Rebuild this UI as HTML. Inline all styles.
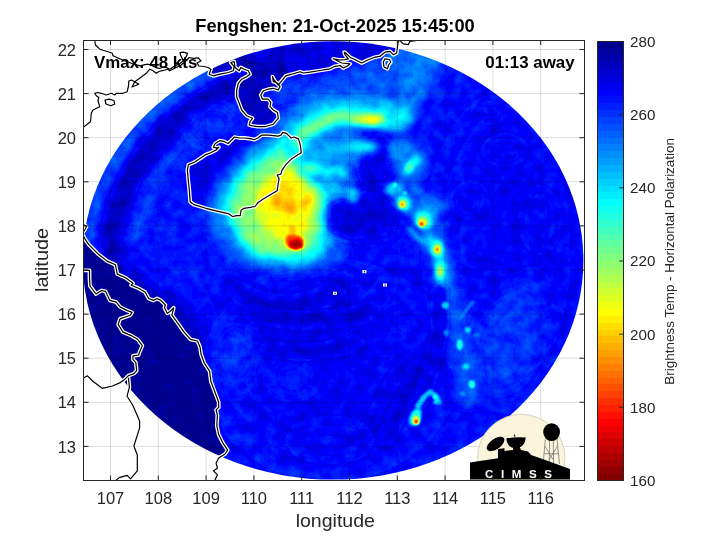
<!DOCTYPE html>
<html><head><meta charset="utf-8"><title>Fengshen</title><style>
html,body{margin:0;padding:0;background:#fff;width:720px;height:540px;overflow:hidden}
svg{display:block}
text{font-family:"Liberation Sans",Arial,sans-serif}
</style></head><body>
<svg width="720" height="540" viewBox="0 0 720 540">
<defs>
<clipPath id="ax"><rect x="83.5" y="40.5" width="501" height="440"/></clipPath>
<clipPath id="disk"><ellipse cx="333.0" cy="260.4" rx="250.4" ry="219.2"/></clipPath>
<filter id="jet" color-interpolation-filters="sRGB" filterUnits="userSpaceOnUse" x="80" y="35" width="510" height="450"><feTurbulence type="fractalNoise" baseFrequency="0.09" numOctaves="2" seed="7" result="n"/><feColorMatrix in="n" type="matrix" values="1 0 0 0 0  1 0 0 0 0  1 0 0 0 0  0 0 0 0 1" result="ng"/><feComposite in="SourceGraphic" in2="ng" operator="arithmetic" k1="0" k2="1" k3="0.11" k4="-0.055" result="f"/><feComponentTransfer in="f"><feFuncR type="discrete" tableValues="0 0 0 0 0 0 0 0 0 0 0 0 0 0 0 0 0 0 0 0 0 0 0 0 0.0625 0.125 0.1875 0.25 0.3125 0.375 0.4375 0.5 0.5625 0.625 0.6875 0.75 0.8125 0.875 0.9375 1 1 1 1 1 1 1 1 1 1 1 1 1 1 1 1 1 0.9375 0.875 0.8125 0.75 0.6875 0.625 0.5625 0.5"/><feFuncG type="discrete" tableValues="0 0 0 0 0 0 0 0 0.0625 0.125 0.1875 0.25 0.3125 0.375 0.4375 0.5 0.5625 0.625 0.6875 0.75 0.8125 0.875 0.9375 1 1 1 1 1 1 1 1 1 1 1 1 1 1 1 1 1 0.9375 0.875 0.8125 0.75 0.6875 0.625 0.5625 0.5 0.4375 0.375 0.3125 0.25 0.1875 0.125 0.0625 0 0 0 0 0 0 0 0 0"/><feFuncB type="discrete" tableValues="0.5625 0.625 0.6875 0.75 0.8125 0.875 0.9375 1 1 1 1 1 1 1 1 1 1 1 1 1 1 1 1 1 0.9375 0.875 0.8125 0.75 0.6875 0.625 0.5625 0.5 0.4375 0.375 0.3125 0.25 0.1875 0.125 0.0625 0 0 0 0 0 0 0 0 0 0 0 0 0 0 0 0 0 0 0 0 0 0 0 0 0"/></feComponentTransfer></filter>
<filter id="b0_8" filterUnits="userSpaceOnUse" x="0" y="0" width="720" height="540"><feGaussianBlur stdDeviation="0.8"/></filter>
<filter id="b1" filterUnits="userSpaceOnUse" x="0" y="0" width="720" height="540"><feGaussianBlur stdDeviation="1"/></filter>
<filter id="b1_2" filterUnits="userSpaceOnUse" x="0" y="0" width="720" height="540"><feGaussianBlur stdDeviation="1.2"/></filter>
<filter id="b1_5" filterUnits="userSpaceOnUse" x="0" y="0" width="720" height="540"><feGaussianBlur stdDeviation="1.5"/></filter>
<filter id="b2" filterUnits="userSpaceOnUse" x="0" y="0" width="720" height="540"><feGaussianBlur stdDeviation="2"/></filter>
<filter id="b2_5" filterUnits="userSpaceOnUse" x="0" y="0" width="720" height="540"><feGaussianBlur stdDeviation="2.5"/></filter>
<filter id="b3" filterUnits="userSpaceOnUse" x="0" y="0" width="720" height="540"><feGaussianBlur stdDeviation="3"/></filter>
<filter id="b3_5" filterUnits="userSpaceOnUse" x="0" y="0" width="720" height="540"><feGaussianBlur stdDeviation="3.5"/></filter>
<filter id="b4" filterUnits="userSpaceOnUse" x="0" y="0" width="720" height="540"><feGaussianBlur stdDeviation="4"/></filter>
<filter id="b4_5" filterUnits="userSpaceOnUse" x="0" y="0" width="720" height="540"><feGaussianBlur stdDeviation="4.5"/></filter>
<filter id="b5" filterUnits="userSpaceOnUse" x="0" y="0" width="720" height="540"><feGaussianBlur stdDeviation="5"/></filter>
<filter id="b6" filterUnits="userSpaceOnUse" x="0" y="0" width="720" height="540"><feGaussianBlur stdDeviation="6"/></filter>
<filter id="b7" filterUnits="userSpaceOnUse" x="0" y="0" width="720" height="540"><feGaussianBlur stdDeviation="7"/></filter>
<filter id="b8" filterUnits="userSpaceOnUse" x="0" y="0" width="720" height="540"><feGaussianBlur stdDeviation="8"/></filter>
<filter id="b10" filterUnits="userSpaceOnUse" x="0" y="0" width="720" height="540"><feGaussianBlur stdDeviation="10"/></filter>
<filter id="b12" filterUnits="userSpaceOnUse" x="0" y="0" width="720" height="540"><feGaussianBlur stdDeviation="12"/></filter>
<filter id="b20" filterUnits="userSpaceOnUse" x="0" y="0" width="720" height="540"><feGaussianBlur stdDeviation="20"/></filter>
<filter id="b25" filterUnits="userSpaceOnUse" x="0" y="0" width="720" height="540"><feGaussianBlur stdDeviation="25"/></filter>
</defs>
<rect width="720" height="540" fill="#fff"/>
<g clip-path="url(#ax)">
<g clip-path="url(#disk)"><g filter="url(#jet)">
<rect x="80" y="35" width="510" height="450" fill="rgb(34,34,34)"/>
<ellipse cx="330" cy="370" rx="110" ry="90" fill="rgb(31,31,31)" filter="url(#b25)"/>
<path d="M341.5,47.5 L332.0,47.3 L322.5,47.5 L313.1,48.0 L303.6,48.9 L294.2,50.0 L284.9,51.5 L275.6,53.3 L266.5,55.4 L257.4,57.9 L248.4,60.6 L239.6,63.6 L230.9,67.0 L222.4,70.6 L214.0,74.5 L205.8,78.7 L197.8,83.2 L190.0,87.9 L182.5,93.0 L175.1,98.2 L168.0,103.7 L161.2,109.5 L154.6,115.4 L148.3,121.6 L142.2,128.1 L136.5,134.7 L131.1,141.5 L125.9,148.4 L121.1,155.6 L116.6,162.9 L112.4,170.4" fill="none" stroke="rgb(56,56,56)" stroke-width="15" stroke-linecap="round" stroke-linejoin="round" filter="url(#b4)"/>
<path d="M147.3,124.0 L141.6,130.2 L136.1,136.7 L130.9,143.3 L126.0,150.1 L121.3,157.0 L117.0,164.1 L113.0,171.3 L109.3,178.6 L106.0,186.1 L102.9,193.7 L100.2,201.3 L97.8,209.1 L95.8,216.9 L94.0,224.8 L92.7,232.7 L91.6,240.7 L91.0,248.7 L90.6,256.7 L90.7,264.7 L91.0,272.7 L91.7,280.7 L92.8,288.7 L94.2,296.6 L95.9,304.5 L98.0,312.3 L100.4,320.1 L103.1,327.7 L106.2,335.3 L109.6,342.7 L113.3,350.1" fill="none" stroke="rgb(46,46,46)" stroke-width="18" stroke-linecap="round" stroke-linejoin="round" filter="url(#b5)"/>
<path d="M264.0,74.4 L255.6,76.9 L247.4,79.8 L239.3,82.9 L231.3,86.3 L223.6,89.9 L215.9,93.8 L208.5,98.0 L201.3,102.5 L194.2,107.1 L187.4,112.1 L180.8,117.2 L174.5,122.6 L168.4,128.2 L162.5,134.0 L157.0,140.0 L151.7,146.2 L146.6,152.6 L141.9,159.1 L137.5,165.8 L133.4,172.6 L129.6,179.6 L126.1,186.7 L122.9,193.9 L120.1,201.3 L117.6,208.7 L115.4,216.2 L113.6,223.8 L112.1,231.4 L110.9,239.1 L110.1,246.8 L113,262 L128,282 L150,297 L175,311 L198,345" fill="none" stroke="rgb(15,15,15)" stroke-width="22" stroke-linecap="round" stroke-linejoin="round" filter="url(#b5)"/>
<path d="M298.5,89.4 L290.4,90.8 L282.3,92.5 L274.3,94.5 L266.4,96.8 L258.7,99.4 L251.0,102.2 L243.5,105.4 L236.2,108.8 L229.0,112.5 L222.1,116.4 L215.3,120.6 L208.7,125.0 L202.3,129.7 L196.2,134.6 L190.3,139.8 L184.6,145.1 L179.3,150.6 L174.1,156.4 L169.3,162.3 L164.7,168.4 L160.5,174.6 L156.5,181.0 L152.9,187.5 L149.6,194.2 L146.6,201.0 L143.9,207.9 L141.5,214.9 L139.5,221.9 L137.9,229.0 L136.5,236.2" fill="none" stroke="rgb(42,42,42)" stroke-width="16" stroke-linecap="round" stroke-linejoin="round" filter="url(#b5)"/>
<ellipse cx="212" cy="125" rx="24" ry="18" fill="rgb(40,40,40)" filter="url(#b8)"/>
<path d="M380,46 L420,48 L442,58 L430,85 L415,115 L400,132 L380,125Z" fill="rgb(61,61,61)" filter="url(#b5)"/>
<path d="M290,92 L340,72 L400,55 L406,104 L350,108 L300,118Z" fill="rgb(51,51,51)" filter="url(#b6)"/>
<ellipse cx="515" cy="250" rx="75" ry="150" fill="rgb(31,31,31)" filter="url(#b20)"/>
<ellipse cx="505" cy="150" rx="20" ry="12" fill="rgb(26,26,26)" filter="url(#b6)"/>
<ellipse cx="540" cy="220" rx="15" ry="30" fill="rgb(28,28,28)" filter="url(#b8)"/>
<ellipse cx="470" cy="200" rx="15" ry="15" fill="rgb(28,28,28)" filter="url(#b6)"/>
<ellipse cx="520" cy="300" rx="30" ry="14" fill="rgb(41,41,41)" filter="url(#b8)" transform="rotate(-50 520 300)"/>
<ellipse cx="545" cy="330" rx="10" ry="25" fill="rgb(26,26,26)" filter="url(#b6)" transform="rotate(30 545 330)"/>
<ellipse cx="490" cy="110" rx="15" ry="10" fill="rgb(26,26,26)" filter="url(#b6)"/>
<ellipse cx="375" cy="165" rx="24" ry="28" fill="rgb(20,20,20)" filter="url(#b7)"/>
<path d="M235,290 C270,315 320,310 345,280" fill="none" stroke="rgb(24,24,24)" stroke-width="14" stroke-linecap="round" stroke-linejoin="round" filter="url(#b7)"/>
<path d="M250,330 C300,350 360,330 390,280" fill="none" stroke="rgb(26,26,26)" stroke-width="10" stroke-linecap="round" stroke-linejoin="round" filter="url(#b8)"/>
<ellipse cx="235" cy="355" rx="18" ry="30" fill="rgb(41,41,41)" filter="url(#b10)"/>
<ellipse cx="293" cy="377" rx="20" ry="15" fill="rgb(38,38,38)" filter="url(#b10)"/>
<path d="M250,312 C290,325 340,322 373,310" fill="none" stroke="rgb(22,22,22)" stroke-width="12" stroke-linecap="round" stroke-linejoin="round" filter="url(#b6)"/>
<path d="M266,348 C300,356 330,352 358,342" fill="none" stroke="rgb(23,23,23)" stroke-width="10" stroke-linecap="round" stroke-linejoin="round" filter="url(#b6)"/>
<path d="M420,365 L385,440" fill="none" stroke="rgb(22,22,22)" stroke-width="12" stroke-linecap="round" stroke-linejoin="round" filter="url(#b6)"/>
<path d="M405,360 L360,440" fill="none" stroke="rgb(23,23,23)" stroke-width="8" stroke-linecap="round" stroke-linejoin="round" filter="url(#b6)"/>
<ellipse cx="330" cy="440" rx="40" ry="15" fill="rgb(26,26,26)" filter="url(#b10)"/>
<ellipse cx="508" cy="345" rx="35" ry="55" fill="rgb(41,41,41)" filter="url(#b12)" transform="rotate(20 508 345)"/>
<polygon points="83.5,236.0 84.9,238.9 88.6,244.4 97.8,253.7 107.1,261.1 115.4,264.8 117.3,274.1 125.6,277.8 133.0,283.3 131.1,285.2 138.6,288.3 145.0,292.0 148.7,298.5 153.4,300.4 157.1,298.5 160.8,300.4 165.4,305.0 164.5,307.8 167.3,313.3 170.0,311.5 173.7,307.8 171.9,315.2 177.4,322.6 183.9,331.9 190.4,339.3 197.5,341.0 200.0,347.0 201.0,354.0 204.4,363.3 209.6,371.1 210.9,381.5 214.8,391.8 218.7,402.2 218.7,407.4 216.1,410.0 217.4,415.1 216.8,425.5 218.7,434.6 222.5,442.3 227.7,450.1 225.1,454.0 218.7,457.9 216.1,463.1 217.4,468.2 213.5,470.8 217.4,474.7 214.8,480.5 214.8,490.0 60.0,490.0 60.0,236.0" fill="rgb(4,4,4)" filter="url(#b0_8)"/>
<polygon points="198.0,58.0 201.0,61.0 197.0,63.0 199.0,66.0 204.0,66.5 208.0,67.5 210.8,69.2 209.2,74.2 213.3,75.8 220.0,74.2 228.3,72.5 233.3,70.8 234.2,66.7 230.8,62.5 234.2,61.7 235.0,67.5 239.2,70.8 240.8,67.5 244.2,69.2 248.3,70.8 250.0,74.2 246.7,76.7 241.7,79.2 238.3,83.3 236.7,90.0 236.7,96.7 239.2,103.3 241.7,110.0 246.7,115.8 252.5,118.3 250.0,121.7 249.2,125.0 252.5,125.8 257.5,126.7 265.0,126.7 273.3,124.2 278.3,118.3 277.5,112.5 273.3,110.0 270.0,106.7 270.8,102.5 268.3,99.2 262.5,99.2 260.8,95.0 263.3,90.8 268.3,89.2 273.3,88.3 278.3,90.0 280.0,86.7 276.7,82.5 273.3,81.7 272.5,76.7 274.5,80.5 278.3,85.0 281.7,80.8 285.8,75.8 291.7,74.2 300.0,71.7 303.3,73.0 310.0,72.2 320.0,70.5 330.0,68.8 335.0,66.3 340.0,65.5 343.3,68.0 348.3,65.5 350.0,63.8 341.7,63.0 338.3,61.3 333.3,58.8 340.0,60.0 345.0,59.7 348.3,58.8 345.0,54.7 344.2,52.2 345.8,53.0 350.0,57.2 356.7,60.5 361.7,63.0 368.3,59.7 375.0,57.2 380.0,56.3 385.0,52.2 390.0,51.3 393.3,54.7 396.7,53.0 397.5,46.3 398.3,41.3 400.0,40.5 403.3,43.8 408.3,44.7 410.0,41.3 416.7,40.5 420.0,40.0 420.0,20.0 190.0,20.0" fill="rgb(10,10,10)" filter="url(#b0_8)"/>
<polygon points="285.8,75.8 291.7,74.2 300.0,71.7 303.3,73.0 310.0,72.2 320.0,70.5 330.0,68.8 335.0,66.3 340.0,65.5 343.3,68.0 348.3,65.5 350.0,63.8 341.7,63.0 338.3,61.3 333.3,58.8 340.0,60.0 345.0,59.7 348.3,58.8 345.0,54.7 344.2,52.2 345.8,53.0 350.0,57.2 356.7,60.5 361.7,63.0 368.3,59.7 375.0,57.2 380.0,56.3 385.0,52.2 390.0,51.3 393.3,54.7 396.7,53.0 397.5,46.3 398.3,41.3 400.0,40.5 400.0,30.0 285.0,30.0" fill="rgb(18,18,18)" filter="url(#b1_5)"/>
<ellipse cx="262" cy="52" rx="18" ry="8" fill="rgb(18,18,18)" filter="url(#b4)"/>
<polygon points="188.3,164.8 187.4,170.4 188.3,180.6 189.3,189.8 190.2,201.9 193.9,204.6 205.9,208.3 217.0,211.1 229.1,213.9 232.8,216.7 236.5,215.7 240.2,215.7 241.1,210.2 243.9,208.3 250.4,207.4 255.0,206.5 257.8,202.8 263.3,199.1 270.7,194.4 277.2,190.7 278.1,184.3 279.1,178.7 277.2,175.0 280.9,174.1 281.9,170.4 285.6,164.8 291.1,159.3 296.7,155.6 301.3,152.8 300.4,145.4 298.5,138.9 293.9,137.0 291.1,138.0 286.5,133.3 282.8,132.4 280.9,135.2 278.1,136.1 268.9,135.2 261.5,135.2 257.8,138.0 254.1,139.8 251.3,138.9 244.8,138.0 239.3,138.0 234.6,137.0 230.0,141.7 228.1,143.5 224.4,141.7 219.8,140.7 215.2,143.5 213.3,147.2 217.0,148.1 218.9,147.2 216.1,150.0 210.6,152.8 205.9,154.6 200.4,158.3 194.8,162.0 190.2,163.9 188.3,164.8" fill="rgb(19,19,19)" filter="url(#b0_8)"/>
<ellipse cx="292" cy="122" rx="16" ry="11" fill="rgb(66,66,66)" filter="url(#b5)"/>
<path d="M203,212 L213,190 L230,165 L253,143 L270,131 L285,126 L312,126 L336,150 L350,185 L354,215 L344,245 L330,264 L300,271 L262,270 L236,260 L215,235Z" fill="rgb(61,61,61)" filter="url(#b6)"/>
<path d="M219,208 L226,190 L242,168 L260,152 L278,140 L288,136 L310,137 L326,152 L338,182 L342,208 L334,238 L322,257 L300,263 L270,261 L250,256 L236,233Z" fill="rgb(94,94,94)" filter="url(#b5)"/>
<path d="M230,210 L238,188 L254,170 L273,157 L290,150 L296,150 L312,158 L321,177 L324,205 L319,234 L311,250 L290,255 L264,253 L250,248 L240,231Z" fill="rgb(128,128,128)" filter="url(#b4_5)"/>
<path d="M255,205 L259,188 L271,176 L288,168 L305,175 L313,190 L315,208 L307,225 L302,238 L285,240 L268,235 L262,220Z" fill="rgb(158,158,158)" filter="url(#b4)"/>
<path d="M288,148 C300,140 320,140 345,145" fill="none" stroke="rgb(102,102,102)" stroke-width="12" stroke-linecap="round" stroke-linejoin="round" filter="url(#b4)"/>
<path d="M272,196 L279,184 L289,179 L293,190 L297,204 L296,215 L286,219 L276,209Z" fill="rgb(168,168,168)" filter="url(#b2_5)"/>
<ellipse cx="278" cy="202" rx="6" ry="5" fill="rgb(181,181,181)" filter="url(#b2)"/>
<ellipse cx="290" cy="210" rx="6" ry="5" fill="rgb(178,178,178)" filter="url(#b2)"/>
<ellipse cx="307.5" cy="200" rx="4.5" ry="6" fill="rgb(173,173,173)" filter="url(#b2)" transform="rotate(30 307.5 200)"/>
<ellipse cx="292.5" cy="230" rx="3" ry="5" fill="rgb(173,173,173)" filter="url(#b1_5)"/>
<path d="M286,236 L292,234 L300,236 L304,240 L303,248 L296,250.5 L288,248 L285,242Z" fill="rgb(209,209,209)" filter="url(#b1_5)"/>
<path d="M290,241 L300,240 L302.5,247 L295,249.5 L289.5,246.5Z" fill="rgb(245,245,245)" filter="url(#b1_2)"/>
<path d="M298,132 L330,122 L355,128 L362,150 L350,182 L325,190 L305,178Z" fill="rgb(64,64,64)" filter="url(#b6)"/>
<ellipse cx="380" cy="160" rx="14" ry="24" fill="rgb(22,22,22)" filter="url(#b5)"/>
<path d="M300,112 C320,104 360,101 396,106" fill="none" stroke="rgb(66,66,66)" stroke-width="14" stroke-linecap="round" stroke-linejoin="round" filter="url(#b5)"/>
<path d="M293,146 C305,128 318,117 335,114 S375,117 400,118" fill="none" stroke="rgb(89,89,89)" stroke-width="24" stroke-linecap="round" stroke-linejoin="round" filter="url(#b4)"/>
<path d="M298,141 C310,126 322,119 345,116 L352,117" fill="none" stroke="rgb(125,125,125)" stroke-width="11" stroke-linecap="round" stroke-linejoin="round" filter="url(#b3_5)"/>
<ellipse cx="369" cy="119.5" rx="17" ry="5.5" fill="rgb(158,158,158)" filter="url(#b3)"/>
<path d="M305,160 C318,150 335,146 375,147" fill="none" stroke="rgb(79,79,79)" stroke-width="9" stroke-linecap="round" stroke-linejoin="round" filter="url(#b4)"/>
<ellipse cx="362" cy="147" rx="12" ry="5" fill="rgb(92,92,92)" filter="url(#b3)"/>
<path d="M302,172 C315,169 330,171 343,173" fill="none" stroke="rgb(92,92,92)" stroke-width="8" stroke-linecap="round" stroke-linejoin="round" filter="url(#b3)"/>
<ellipse cx="312" cy="168" rx="9" ry="5" fill="rgb(115,115,115)" filter="url(#b3)"/>
<path d="M326,203 L340,196 L352,200 L360,188 L382,190 L398,212 L390,238 L350,242 L327,233Z" fill="rgb(18,18,18)" filter="url(#b4)"/>
<ellipse cx="353" cy="195" rx="7" ry="8" fill="rgb(76,76,76)" filter="url(#b2_5)"/>
<ellipse cx="336" cy="252" rx="12" ry="8" fill="rgb(51,51,51)" filter="url(#b4)"/>
<path d="M396,145 C405,175 420,205 432,230 S446,275 452,305 S468,360 468,395" fill="none" stroke="rgb(51,51,51)" stroke-width="22" stroke-linecap="round" stroke-linejoin="round" filter="url(#b5)"/>
<ellipse cx="410" cy="160" rx="17" ry="19" fill="rgb(59,59,59)" filter="url(#b4)" transform="rotate(-40 410 160)"/>
<ellipse cx="401" cy="150" rx="8" ry="6" fill="rgb(71,71,71)" filter="url(#b3)"/>
<ellipse cx="412" cy="165" rx="5" ry="11" fill="rgb(94,94,94)" filter="url(#b2_5)" transform="rotate(40 412 165)"/>
<ellipse cx="410" cy="167" rx="2.5" ry="5" fill="rgb(117,117,117)" filter="url(#b1_5)" transform="rotate(40 410 167)"/>
<ellipse cx="394" cy="189" rx="9" ry="7" fill="rgb(82,82,82)" filter="url(#b2_5)"/>
<ellipse cx="395" cy="185" rx="2" ry="2" fill="rgb(115,115,115)" filter="url(#b1)"/>
<ellipse cx="405" cy="193" rx="2" ry="2" fill="rgb(107,107,107)" filter="url(#b1)"/>
<ellipse cx="428" cy="210" rx="17" ry="10" fill="rgb(69,69,69)" filter="url(#b4)" transform="rotate(-20 428 210)"/>
<ellipse cx="403.5" cy="203" rx="7" ry="9" fill="rgb(107,107,107)" filter="url(#b2_5)" transform="rotate(-30 403.5 203)"/>
<ellipse cx="402.5" cy="204" rx="3.5" ry="4" fill="rgb(153,153,153)" filter="url(#b1_5)"/>
<ellipse cx="402" cy="204.5" rx="1.8" ry="1.8" fill="rgb(189,189,189)" filter="url(#b1)"/>
<ellipse cx="424" cy="221" rx="8" ry="9" fill="rgb(112,112,112)" filter="url(#b2_5)" transform="rotate(-30 424 221)"/>
<ellipse cx="423" cy="222" rx="5" ry="4" fill="rgb(153,153,153)" filter="url(#b1_5)"/>
<ellipse cx="421.5" cy="224.3" rx="2.4" ry="2.2" fill="rgb(217,217,217)" filter="url(#b1)"/>
<path d="M410,229 L418,238 L428,244" fill="none" stroke="rgb(76,76,76)" stroke-width="5" stroke-linecap="round" stroke-linejoin="round" filter="url(#b2)"/>
<path d="M430,240 L438,252 L442,268 L441,282" fill="none" stroke="rgb(84,84,84)" stroke-width="12" stroke-linecap="round" stroke-linejoin="round" filter="url(#b3)"/>
<ellipse cx="437.5" cy="249" rx="5" ry="8" fill="rgb(115,115,115)" filter="url(#b2)"/>
<ellipse cx="437.2" cy="249.5" rx="3" ry="4.5" fill="rgb(153,153,153)" filter="url(#b1_5)"/>
<ellipse cx="437.2" cy="249.3" rx="1.6" ry="2" fill="rgb(194,194,194)" filter="url(#b1)"/>
<ellipse cx="440" cy="271" rx="4.5" ry="9" fill="rgb(115,115,115)" filter="url(#b2)"/>
<ellipse cx="440" cy="271.5" rx="2.5" ry="4" fill="rgb(148,148,148)" filter="url(#b1_5)"/>
<path d="M440,290 L440,330 L432,365 L424,392" fill="none" stroke="rgb(22,22,22)" stroke-width="12" stroke-linecap="round" stroke-linejoin="round" filter="url(#b4)"/>
<ellipse cx="445.3" cy="305.3" rx="3.5" ry="3.5" fill="rgb(87,87,87)" filter="url(#b1_2)"/>
<path d="M472.9,302 L458.6,320.6" fill="none" stroke="rgb(61,61,61)" stroke-width="3" stroke-linecap="round" stroke-linejoin="round" filter="url(#b1_2)"/>
<ellipse cx="467.8" cy="329.8" rx="3.2" ry="3" fill="rgb(87,87,87)" filter="url(#b1_2)"/>
<ellipse cx="477" cy="335" rx="3" ry="2.5" fill="rgb(64,64,64)" filter="url(#b1_2)"/>
<ellipse cx="446.3" cy="332.9" rx="3" ry="3" fill="rgb(64,64,64)" filter="url(#b1_2)"/>
<ellipse cx="459.6" cy="345.1" rx="2.8" ry="5" fill="rgb(102,102,102)" filter="url(#b1_2)"/>
<ellipse cx="465.7" cy="366.5" rx="3.5" ry="3" fill="rgb(89,89,89)" filter="url(#b1_2)"/>
<ellipse cx="471.8" cy="383.9" rx="3" ry="4" fill="rgb(102,102,102)" filter="url(#b1_2)"/>
<ellipse cx="462.7" cy="394" rx="2.5" ry="2.5" fill="rgb(66,66,66)" filter="url(#b1_2)"/>
<path d="M418,406 L424,397 L430,391.5 L436,396 L439,402" fill="none" stroke="rgb(82,82,82)" stroke-width="5" stroke-linecap="round" stroke-linejoin="round" filter="url(#b1_2)"/>
<ellipse cx="435" cy="397" rx="2" ry="2" fill="rgb(117,117,117)" filter="url(#b1)"/>
<ellipse cx="435.5" cy="402" rx="1.8" ry="1.8" fill="rgb(115,115,115)" filter="url(#b1)"/>
<ellipse cx="415.5" cy="417" rx="5.5" ry="9" fill="rgb(97,97,97)" filter="url(#b1_5)" transform="rotate(25 415.5 417)"/>
<ellipse cx="416" cy="420" rx="3.6" ry="4.5" fill="rgb(148,148,148)" filter="url(#b1_2)"/>
<ellipse cx="416.2" cy="421.5" rx="2.2" ry="2.6" fill="rgb(219,219,219)" filter="url(#b0_8)"/>
</g></g>
<path d="M110.5,41V480 M158.3,41V480 M206.1,41V480 M253.9,41V480 M301.7,41V480 M349.5,41V480 M397.3,41V480 M445.1,41V480 M492.9,41V480 M540.7,41V480 M84,446.4H584 M84,402.3H584 M84,358.2H584 M84,314.1H584 M84,270.0H584 M84,225.9H584 M84,181.8H584 M84,137.7H584 M84,93.6H584 M84,49.5H584" stroke="#000" stroke-opacity="0.14" stroke-width="1" fill="none"/>
<g fill="none" stroke-linejoin="round" stroke-linecap="round" stroke="#fff" stroke-width="3.8"><polyline points="83.5,126.9 86.3,125.0 90.5,121.7 91.3,113.3 93.0,110.0 99.7,106.7 98.0,100.8 98.8,97.5 96.3,95.8 94.7,93.3 98.0,92.5 101.3,93.3 106.3,95.0 111.3,93.3 114.7,95.0 116.3,93.3 123.0,93.3 127.2,91.7 128.5,86.0 128.8,81.0 131.5,80.0 138.8,84.2 132.0,87.0 134.7,81.7 139.7,78.3 146.3,73.3 149.7,69.2 153.0,70.8 156.3,73.3 158.5,71.8 161.3,70.8 165.0,70.0 168.0,69.2 169.7,70.8 176.3,67.5 181.3,65.0 184.0,62.5 187.0,60.0 189.2,57.5 193.3,58.3 198.3,57.9 201.0,61.0 197.0,63.0 199.0,66.0 204.0,66.5 208.0,67.5 210.8,69.2"/>
<polyline points="94.7,40.5 95.5,45.0 99.7,49.2 108.0,51.7 112.2,53.3 113.0,55.8 118.0,58.0 125.0,61.0 132.0,63.5 140.0,65.8 145.0,64.6 148.3,64.2 151.7,65.4 156.7,67.9 160.0,68.3 165.0,66.7 170.0,69.2 175.0,65.8 179.2,64.2 183.0,61.0"/>
<polyline points="180.0,52.5 183.3,52.1 187.5,53.3 186.7,55.8 183.3,60.8 180.8,55.8 180.0,52.5"/>
<polyline points="105.0,100.0 109.0,99.2 114.0,100.5 114.7,104.0 111.0,105.8 106.0,104.0 105.0,100.0"/>
<polyline points="210.8,69.2 209.2,74.2 213.3,75.8 220.0,74.2 228.3,72.5 233.3,70.8 234.2,66.7 230.8,62.5 234.2,61.7 235.0,67.5 239.2,70.8 240.8,67.5 244.2,69.2 248.3,70.8 250.0,74.2 246.7,76.7 241.7,79.2 238.3,83.3 236.7,90.0 236.7,96.7 239.2,103.3 241.7,110.0 246.7,115.8 252.5,118.3 250.0,121.7 249.2,125.0 252.5,125.8 257.5,126.7 265.0,126.7 273.3,124.2 278.3,118.3 277.5,112.5 273.3,110.0 270.0,106.7 270.8,102.5 268.3,99.2 262.5,99.2 260.8,95.0 263.3,90.8 268.3,89.2 273.3,88.3 278.3,90.0 280.0,86.7 276.7,82.5 273.3,81.7 272.5,76.7 274.5,80.5 278.3,85.0 281.7,80.8 285.8,75.8 291.7,74.2 300.0,71.7 303.3,73.0 310.0,72.2 320.0,70.5 330.0,68.8 335.0,66.3 340.0,65.5 343.3,68.0 348.3,65.5 350.0,63.8 341.7,63.0 338.3,61.3 333.3,58.8 340.0,60.0 345.0,59.7 348.3,58.8 345.0,54.7 344.2,52.2 345.8,53.0 350.0,57.2 356.7,60.5 361.7,63.0 368.3,59.7 375.0,57.2 380.0,56.3 385.0,52.2 390.0,51.3 393.3,54.7 396.7,53.0 397.5,46.3 398.3,41.3 400.0,40.5 403.3,43.8 408.3,44.7 410.0,41.3 416.7,40.5"/>
<polyline points="385.0,58.8 389.5,59.5 390.8,62.0 388.5,65.0 387.5,68.8 384.0,67.0 383.3,62.0 385.0,58.8"/>
<polygon points="188.3,164.8 187.4,170.4 188.3,180.6 189.3,189.8 190.2,201.9 193.9,204.6 205.9,208.3 217.0,211.1 229.1,213.9 232.8,216.7 236.5,215.7 240.2,215.7 241.1,210.2 243.9,208.3 250.4,207.4 255.0,206.5 257.8,202.8 263.3,199.1 270.7,194.4 277.2,190.7 278.1,184.3 279.1,178.7 277.2,175.0 280.9,174.1 281.9,170.4 285.6,164.8 291.1,159.3 296.7,155.6 301.3,152.8 300.4,145.4 298.5,138.9 293.9,137.0 291.1,138.0 286.5,133.3 282.8,132.4 280.9,135.2 278.1,136.1 268.9,135.2 261.5,135.2 257.8,138.0 254.1,139.8 251.3,138.9 244.8,138.0 239.3,138.0 234.6,137.0 230.0,141.7 228.1,143.5 224.4,141.7 219.8,140.7 215.2,143.5 213.3,147.2 217.0,148.1 218.9,147.2 216.1,150.0 210.6,152.8 205.9,154.6 200.4,158.3 194.8,162.0 190.2,163.9 188.3,164.8"/>
<polyline points="83.5,236.0 84.9,238.9 88.6,244.4 97.8,253.7 107.1,261.1 115.4,264.8 117.3,274.1 125.6,277.8 133.0,283.3 131.1,285.2 138.6,288.3 145.0,292.0 148.7,298.5 153.4,300.4 157.1,298.5 160.8,300.4 165.4,305.0 164.5,307.8 167.3,313.3 170.0,311.5 173.7,307.8 171.9,315.2 177.4,322.6 183.9,331.9 190.4,339.3 197.5,341.0 200.0,347.0 201.0,354.0 204.4,363.3 209.6,371.1 210.9,381.5 214.8,391.8 218.7,402.2 218.7,407.4 216.1,410.0 217.4,415.1 216.8,425.5 218.7,434.6 222.5,442.3 227.7,450.1 225.1,454.0 218.7,457.9 216.1,463.1 217.4,468.2 213.5,470.8 217.4,474.7 214.8,480.5"/>
<polyline points="83.5,224.5 86.5,226.5 84.2,231.0"/>
<polyline points="83.5,270.4 89.5,270.4 89.5,278.0 90.0,286.0 96.0,294.0 101.5,290.5 105.5,291.3 109.9,300.4 116.3,302.2 120.0,306.9 127.4,310.6 132.1,312.4 130.2,315.2 120.0,318.9 118.2,324.4 122.8,331.9 131.1,335.6 137.6,339.3 142.3,345.7 139.5,352.2 138.6,355.0 133.0,355.9 133.0,359.6 135.8,362.4 136.7,370.7 133.9,373.6 128.2,375.8 124.9,379.2 120.3,382.6 112.4,386.0 102.2,388.3 93.2,381.5 87.5,375.8 83.5,378.0"/>
<polyline points="128.5,378.0 129.4,387.1 127.1,396.2 132.8,405.2 139.6,421.1 139.6,427.9 133.9,446.0 137.3,455.0 137.3,470.9 130.5,478.8 127.1,475.4 119.2,477.6 115.8,480.5"/></g>
<g font-weight="bold" font-size="16.5" fill="#000">
<text x="94" y="67.5" textLength="103.3" lengthAdjust="spacingAndGlyphs">Vmax: 48 kts</text>
<text x="485.3" y="67.5" textLength="89.4" lengthAdjust="spacingAndGlyphs">01:13 away</text>
</g>
<g fill="none" stroke-linejoin="round" stroke-linecap="round" stroke="#000" stroke-width="1.2"><polyline points="83.5,126.9 86.3,125.0 90.5,121.7 91.3,113.3 93.0,110.0 99.7,106.7 98.0,100.8 98.8,97.5 96.3,95.8 94.7,93.3 98.0,92.5 101.3,93.3 106.3,95.0 111.3,93.3 114.7,95.0 116.3,93.3 123.0,93.3 127.2,91.7 128.5,86.0 128.8,81.0 131.5,80.0 138.8,84.2 132.0,87.0 134.7,81.7 139.7,78.3 146.3,73.3 149.7,69.2 153.0,70.8 156.3,73.3 158.5,71.8 161.3,70.8 165.0,70.0 168.0,69.2 169.7,70.8 176.3,67.5 181.3,65.0 184.0,62.5 187.0,60.0 189.2,57.5 193.3,58.3 198.3,57.9 201.0,61.0 197.0,63.0 199.0,66.0 204.0,66.5 208.0,67.5 210.8,69.2"/>
<polyline points="94.7,40.5 95.5,45.0 99.7,49.2 108.0,51.7 112.2,53.3 113.0,55.8 118.0,58.0 125.0,61.0 132.0,63.5 140.0,65.8 145.0,64.6 148.3,64.2 151.7,65.4 156.7,67.9 160.0,68.3 165.0,66.7 170.0,69.2 175.0,65.8 179.2,64.2 183.0,61.0"/>
<polyline points="180.0,52.5 183.3,52.1 187.5,53.3 186.7,55.8 183.3,60.8 180.8,55.8 180.0,52.5"/>
<polyline points="105.0,100.0 109.0,99.2 114.0,100.5 114.7,104.0 111.0,105.8 106.0,104.0 105.0,100.0"/>
<polyline points="210.8,69.2 209.2,74.2 213.3,75.8 220.0,74.2 228.3,72.5 233.3,70.8 234.2,66.7 230.8,62.5 234.2,61.7 235.0,67.5 239.2,70.8 240.8,67.5 244.2,69.2 248.3,70.8 250.0,74.2 246.7,76.7 241.7,79.2 238.3,83.3 236.7,90.0 236.7,96.7 239.2,103.3 241.7,110.0 246.7,115.8 252.5,118.3 250.0,121.7 249.2,125.0 252.5,125.8 257.5,126.7 265.0,126.7 273.3,124.2 278.3,118.3 277.5,112.5 273.3,110.0 270.0,106.7 270.8,102.5 268.3,99.2 262.5,99.2 260.8,95.0 263.3,90.8 268.3,89.2 273.3,88.3 278.3,90.0 280.0,86.7 276.7,82.5 273.3,81.7 272.5,76.7 274.5,80.5 278.3,85.0 281.7,80.8 285.8,75.8 291.7,74.2 300.0,71.7 303.3,73.0 310.0,72.2 320.0,70.5 330.0,68.8 335.0,66.3 340.0,65.5 343.3,68.0 348.3,65.5 350.0,63.8 341.7,63.0 338.3,61.3 333.3,58.8 340.0,60.0 345.0,59.7 348.3,58.8 345.0,54.7 344.2,52.2 345.8,53.0 350.0,57.2 356.7,60.5 361.7,63.0 368.3,59.7 375.0,57.2 380.0,56.3 385.0,52.2 390.0,51.3 393.3,54.7 396.7,53.0 397.5,46.3 398.3,41.3 400.0,40.5 403.3,43.8 408.3,44.7 410.0,41.3 416.7,40.5"/>
<polyline points="385.0,58.8 389.5,59.5 390.8,62.0 388.5,65.0 387.5,68.8 384.0,67.0 383.3,62.0 385.0,58.8"/>
<polygon points="188.3,164.8 187.4,170.4 188.3,180.6 189.3,189.8 190.2,201.9 193.9,204.6 205.9,208.3 217.0,211.1 229.1,213.9 232.8,216.7 236.5,215.7 240.2,215.7 241.1,210.2 243.9,208.3 250.4,207.4 255.0,206.5 257.8,202.8 263.3,199.1 270.7,194.4 277.2,190.7 278.1,184.3 279.1,178.7 277.2,175.0 280.9,174.1 281.9,170.4 285.6,164.8 291.1,159.3 296.7,155.6 301.3,152.8 300.4,145.4 298.5,138.9 293.9,137.0 291.1,138.0 286.5,133.3 282.8,132.4 280.9,135.2 278.1,136.1 268.9,135.2 261.5,135.2 257.8,138.0 254.1,139.8 251.3,138.9 244.8,138.0 239.3,138.0 234.6,137.0 230.0,141.7 228.1,143.5 224.4,141.7 219.8,140.7 215.2,143.5 213.3,147.2 217.0,148.1 218.9,147.2 216.1,150.0 210.6,152.8 205.9,154.6 200.4,158.3 194.8,162.0 190.2,163.9 188.3,164.8"/>
<polyline points="83.5,236.0 84.9,238.9 88.6,244.4 97.8,253.7 107.1,261.1 115.4,264.8 117.3,274.1 125.6,277.8 133.0,283.3 131.1,285.2 138.6,288.3 145.0,292.0 148.7,298.5 153.4,300.4 157.1,298.5 160.8,300.4 165.4,305.0 164.5,307.8 167.3,313.3 170.0,311.5 173.7,307.8 171.9,315.2 177.4,322.6 183.9,331.9 190.4,339.3 197.5,341.0 200.0,347.0 201.0,354.0 204.4,363.3 209.6,371.1 210.9,381.5 214.8,391.8 218.7,402.2 218.7,407.4 216.1,410.0 217.4,415.1 216.8,425.5 218.7,434.6 222.5,442.3 227.7,450.1 225.1,454.0 218.7,457.9 216.1,463.1 217.4,468.2 213.5,470.8 217.4,474.7 214.8,480.5"/>
<polyline points="83.5,224.5 86.5,226.5 84.2,231.0"/>
<polyline points="83.5,270.4 89.5,270.4 89.5,278.0 90.0,286.0 96.0,294.0 101.5,290.5 105.5,291.3 109.9,300.4 116.3,302.2 120.0,306.9 127.4,310.6 132.1,312.4 130.2,315.2 120.0,318.9 118.2,324.4 122.8,331.9 131.1,335.6 137.6,339.3 142.3,345.7 139.5,352.2 138.6,355.0 133.0,355.9 133.0,359.6 135.8,362.4 136.7,370.7 133.9,373.6 128.2,375.8 124.9,379.2 120.3,382.6 112.4,386.0 102.2,388.3 93.2,381.5 87.5,375.8 83.5,378.0"/>
<polyline points="128.5,378.0 129.4,387.1 127.1,396.2 132.8,405.2 139.6,421.1 139.6,427.9 133.9,446.0 137.3,455.0 137.3,470.9 130.5,478.8 127.1,475.4 119.2,477.6 115.8,480.5"/></g>
<rect x="362.4" y="270.2" width="4" height="3" fill="#fff"/><rect x="383" y="283.5" width="4" height="3" fill="#fff"/><rect x="333" y="291.8" width="4" height="3" fill="#fff"/><rect x="363.9" y="271.2" width="1.2" height="1.2" fill="#000"/><rect x="384.5" y="284.5" width="1.2" height="1.2" fill="#000"/><rect x="334.5" y="292.8" width="1.2" height="1.2" fill="#000"/>
<g>
<circle cx="521.3" cy="458" r="43.7" fill="#fbf4dc" stroke="#cfc8b4" stroke-width="0.8"/>
<path d="M545.3,439.4 L543.2,464 M549.6,440 L549.2,464 M553.3,440 L553.6,464 M557,439 L559.5,464 M544.2,453.7 L558.5,453.7 M544.8,446 L553.5,460 M557.5,446 L549,460" stroke="#6a6a66" stroke-width="0.7" fill="none"/>
<path d="M470,479.5 V462.5 L498,458.3 V449 L504.5,448.3 V451 L513,450 V446.5 L519.5,446.5 L521,450 L528,451.5 L531,455 L538.3,457.5 L570,469 V479.5 Z" fill="#000"/>
<ellipse cx="495.6" cy="443.9" rx="10.2" ry="5.2" transform="rotate(-35 495.6 443.9)" fill="#000"/>
<path d="M490.5,437 L492.3,439" stroke="#bbb" stroke-width="0.6"/>
<path d="M506.3,438.6 Q516,436.3 525.8,437.6 Q525,447.6 516,448.4 Q507,447.8 506.3,438.6 Z" fill="#000"/>
<path d="M513.8,436.6 L514.6,434 L515.6,436.6 Z" fill="#000"/>
<ellipse cx="551.6" cy="432.1" rx="8.4" ry="8.9" fill="#000"/>
<text x="485" y="477.6" fill="#fff" font-size="11.6" font-weight="bold" letter-spacing="7.55">CIMSS</text>
</g>
</g>
<path d="M110.5,480V475.5 M110.5,40.5V45 M158.3,480V475.5 M158.3,40.5V45 M206.1,480V475.5 M206.1,40.5V45 M253.9,480V475.5 M253.9,40.5V45 M301.7,480V475.5 M301.7,40.5V45 M349.5,480V475.5 M349.5,40.5V45 M397.3,480V475.5 M397.3,40.5V45 M445.1,480V475.5 M445.1,40.5V45 M492.9,480V475.5 M492.9,40.5V45 M540.7,480V475.5 M540.7,40.5V45 M83.5,446.4H88.5 M584.5,446.4H579.5 M83.5,402.3H88.5 M584.5,402.3H579.5 M83.5,358.2H88.5 M584.5,358.2H579.5 M83.5,314.1H88.5 M584.5,314.1H579.5 M83.5,270.0H88.5 M584.5,270.0H579.5 M83.5,225.9H88.5 M584.5,225.9H579.5 M83.5,181.8H88.5 M584.5,181.8H579.5 M83.5,137.7H88.5 M584.5,137.7H579.5 M83.5,93.6H88.5 M584.5,93.6H579.5 M83.5,49.5H88.5 M584.5,49.5H579.5" stroke="#262626" stroke-width="1" fill="none"/>
<rect x="83.5" y="40.5" width="501" height="440" fill="none" stroke="#262626" stroke-width="1"/>
<g font-size="16.5" fill="#262626"><text x="110.5" y="504.3" text-anchor="middle">107</text><text x="158.3" y="504.3" text-anchor="middle">108</text><text x="206.1" y="504.3" text-anchor="middle">109</text><text x="253.9" y="504.3" text-anchor="middle">110</text><text x="301.7" y="504.3" text-anchor="middle">111</text><text x="349.5" y="504.3" text-anchor="middle">112</text><text x="397.3" y="504.3" text-anchor="middle">113</text><text x="445.1" y="504.3" text-anchor="middle">114</text><text x="492.9" y="504.3" text-anchor="middle">115</text><text x="540.7" y="504.3" text-anchor="middle">116</text><text x="76" y="452.5" text-anchor="end">13</text><text x="76" y="408.4" text-anchor="end">14</text><text x="76" y="364.3" text-anchor="end">15</text><text x="76" y="320.2" text-anchor="end">16</text><text x="76" y="276.1" text-anchor="end">17</text><text x="76" y="232.0" text-anchor="end">18</text><text x="76" y="187.9" text-anchor="end">19</text><text x="76" y="143.8" text-anchor="end">20</text><text x="76" y="99.7" text-anchor="end">21</text><text x="76" y="55.6" text-anchor="end">22</text></g>
<text x="335.3" y="527.4" text-anchor="middle" font-size="19" fill="#262626" textLength="79.3" lengthAdjust="spacingAndGlyphs">longitude</text>
<text transform="translate(48,260) rotate(-90)" text-anchor="middle" font-size="19" fill="#262626" textLength="64" lengthAdjust="spacingAndGlyphs">latitude</text>
<text x="335" y="31.7" text-anchor="middle" font-size="18.7" font-weight="bold" fill="#000" textLength="279.5" lengthAdjust="spacingAndGlyphs">Fengshen: 21-Oct-2025 15:45:00</text>
<linearGradient id="cbg" x1="0" y1="0" x2="0" y2="1"><stop offset="0.00000" stop-color="rgb(0,0,143)"/><stop offset="0.01562" stop-color="rgb(0,0,143)"/><stop offset="0.01562" stop-color="rgb(0,0,159)"/><stop offset="0.03125" stop-color="rgb(0,0,159)"/><stop offset="0.03125" stop-color="rgb(0,0,175)"/><stop offset="0.04688" stop-color="rgb(0,0,175)"/><stop offset="0.04688" stop-color="rgb(0,0,191)"/><stop offset="0.06250" stop-color="rgb(0,0,191)"/><stop offset="0.06250" stop-color="rgb(0,0,207)"/><stop offset="0.07812" stop-color="rgb(0,0,207)"/><stop offset="0.07812" stop-color="rgb(0,0,223)"/><stop offset="0.09375" stop-color="rgb(0,0,223)"/><stop offset="0.09375" stop-color="rgb(0,0,239)"/><stop offset="0.10938" stop-color="rgb(0,0,239)"/><stop offset="0.10938" stop-color="rgb(0,0,255)"/><stop offset="0.12500" stop-color="rgb(0,0,255)"/><stop offset="0.12500" stop-color="rgb(0,16,255)"/><stop offset="0.14062" stop-color="rgb(0,16,255)"/><stop offset="0.14062" stop-color="rgb(0,32,255)"/><stop offset="0.15625" stop-color="rgb(0,32,255)"/><stop offset="0.15625" stop-color="rgb(0,48,255)"/><stop offset="0.17188" stop-color="rgb(0,48,255)"/><stop offset="0.17188" stop-color="rgb(0,64,255)"/><stop offset="0.18750" stop-color="rgb(0,64,255)"/><stop offset="0.18750" stop-color="rgb(0,80,255)"/><stop offset="0.20312" stop-color="rgb(0,80,255)"/><stop offset="0.20312" stop-color="rgb(0,96,255)"/><stop offset="0.21875" stop-color="rgb(0,96,255)"/><stop offset="0.21875" stop-color="rgb(0,112,255)"/><stop offset="0.23438" stop-color="rgb(0,112,255)"/><stop offset="0.23438" stop-color="rgb(0,128,255)"/><stop offset="0.25000" stop-color="rgb(0,128,255)"/><stop offset="0.25000" stop-color="rgb(0,143,255)"/><stop offset="0.26562" stop-color="rgb(0,143,255)"/><stop offset="0.26562" stop-color="rgb(0,159,255)"/><stop offset="0.28125" stop-color="rgb(0,159,255)"/><stop offset="0.28125" stop-color="rgb(0,175,255)"/><stop offset="0.29688" stop-color="rgb(0,175,255)"/><stop offset="0.29688" stop-color="rgb(0,191,255)"/><stop offset="0.31250" stop-color="rgb(0,191,255)"/><stop offset="0.31250" stop-color="rgb(0,207,255)"/><stop offset="0.32812" stop-color="rgb(0,207,255)"/><stop offset="0.32812" stop-color="rgb(0,223,255)"/><stop offset="0.34375" stop-color="rgb(0,223,255)"/><stop offset="0.34375" stop-color="rgb(0,239,255)"/><stop offset="0.35938" stop-color="rgb(0,239,255)"/><stop offset="0.35938" stop-color="rgb(0,255,255)"/><stop offset="0.37500" stop-color="rgb(0,255,255)"/><stop offset="0.37500" stop-color="rgb(16,255,239)"/><stop offset="0.39062" stop-color="rgb(16,255,239)"/><stop offset="0.39062" stop-color="rgb(32,255,223)"/><stop offset="0.40625" stop-color="rgb(32,255,223)"/><stop offset="0.40625" stop-color="rgb(48,255,207)"/><stop offset="0.42188" stop-color="rgb(48,255,207)"/><stop offset="0.42188" stop-color="rgb(64,255,191)"/><stop offset="0.43750" stop-color="rgb(64,255,191)"/><stop offset="0.43750" stop-color="rgb(80,255,175)"/><stop offset="0.45312" stop-color="rgb(80,255,175)"/><stop offset="0.45312" stop-color="rgb(96,255,159)"/><stop offset="0.46875" stop-color="rgb(96,255,159)"/><stop offset="0.46875" stop-color="rgb(112,255,143)"/><stop offset="0.48438" stop-color="rgb(112,255,143)"/><stop offset="0.48438" stop-color="rgb(128,255,128)"/><stop offset="0.50000" stop-color="rgb(128,255,128)"/><stop offset="0.50000" stop-color="rgb(143,255,112)"/><stop offset="0.51562" stop-color="rgb(143,255,112)"/><stop offset="0.51562" stop-color="rgb(159,255,96)"/><stop offset="0.53125" stop-color="rgb(159,255,96)"/><stop offset="0.53125" stop-color="rgb(175,255,80)"/><stop offset="0.54688" stop-color="rgb(175,255,80)"/><stop offset="0.54688" stop-color="rgb(191,255,64)"/><stop offset="0.56250" stop-color="rgb(191,255,64)"/><stop offset="0.56250" stop-color="rgb(207,255,48)"/><stop offset="0.57812" stop-color="rgb(207,255,48)"/><stop offset="0.57812" stop-color="rgb(223,255,32)"/><stop offset="0.59375" stop-color="rgb(223,255,32)"/><stop offset="0.59375" stop-color="rgb(239,255,16)"/><stop offset="0.60938" stop-color="rgb(239,255,16)"/><stop offset="0.60938" stop-color="rgb(255,255,0)"/><stop offset="0.62500" stop-color="rgb(255,255,0)"/><stop offset="0.62500" stop-color="rgb(255,239,0)"/><stop offset="0.64062" stop-color="rgb(255,239,0)"/><stop offset="0.64062" stop-color="rgb(255,223,0)"/><stop offset="0.65625" stop-color="rgb(255,223,0)"/><stop offset="0.65625" stop-color="rgb(255,207,0)"/><stop offset="0.67188" stop-color="rgb(255,207,0)"/><stop offset="0.67188" stop-color="rgb(255,191,0)"/><stop offset="0.68750" stop-color="rgb(255,191,0)"/><stop offset="0.68750" stop-color="rgb(255,175,0)"/><stop offset="0.70312" stop-color="rgb(255,175,0)"/><stop offset="0.70312" stop-color="rgb(255,159,0)"/><stop offset="0.71875" stop-color="rgb(255,159,0)"/><stop offset="0.71875" stop-color="rgb(255,143,0)"/><stop offset="0.73438" stop-color="rgb(255,143,0)"/><stop offset="0.73438" stop-color="rgb(255,128,0)"/><stop offset="0.75000" stop-color="rgb(255,128,0)"/><stop offset="0.75000" stop-color="rgb(255,112,0)"/><stop offset="0.76562" stop-color="rgb(255,112,0)"/><stop offset="0.76562" stop-color="rgb(255,96,0)"/><stop offset="0.78125" stop-color="rgb(255,96,0)"/><stop offset="0.78125" stop-color="rgb(255,80,0)"/><stop offset="0.79688" stop-color="rgb(255,80,0)"/><stop offset="0.79688" stop-color="rgb(255,64,0)"/><stop offset="0.81250" stop-color="rgb(255,64,0)"/><stop offset="0.81250" stop-color="rgb(255,48,0)"/><stop offset="0.82812" stop-color="rgb(255,48,0)"/><stop offset="0.82812" stop-color="rgb(255,32,0)"/><stop offset="0.84375" stop-color="rgb(255,32,0)"/><stop offset="0.84375" stop-color="rgb(255,16,0)"/><stop offset="0.85938" stop-color="rgb(255,16,0)"/><stop offset="0.85938" stop-color="rgb(255,0,0)"/><stop offset="0.87500" stop-color="rgb(255,0,0)"/><stop offset="0.87500" stop-color="rgb(239,0,0)"/><stop offset="0.89062" stop-color="rgb(239,0,0)"/><stop offset="0.89062" stop-color="rgb(223,0,0)"/><stop offset="0.90625" stop-color="rgb(223,0,0)"/><stop offset="0.90625" stop-color="rgb(207,0,0)"/><stop offset="0.92188" stop-color="rgb(207,0,0)"/><stop offset="0.92188" stop-color="rgb(191,0,0)"/><stop offset="0.93750" stop-color="rgb(191,0,0)"/><stop offset="0.93750" stop-color="rgb(175,0,0)"/><stop offset="0.95312" stop-color="rgb(175,0,0)"/><stop offset="0.95312" stop-color="rgb(159,0,0)"/><stop offset="0.96875" stop-color="rgb(159,0,0)"/><stop offset="0.96875" stop-color="rgb(143,0,0)"/><stop offset="0.98438" stop-color="rgb(143,0,0)"/><stop offset="0.98438" stop-color="rgb(128,0,0)"/><stop offset="1.00000" stop-color="rgb(128,0,0)"/></linearGradient>
<rect x="597.5" y="41.5" width="26" height="439.0" fill="url(#cbg)"/>
<path d="M623.5,480.5H619 M623.5,407.3H619 M623.5,334.2H619 M623.5,261.0H619 M623.5,187.8H619 M623.5,114.7H619 M623.5,41.5H619" stroke="#262626" stroke-width="1" fill="none"/>
<rect x="597.5" y="41.5" width="26" height="439" fill="none" stroke="#262626" stroke-width="1"/>
<g font-size="15.2" fill="#262626"><text x="630" y="485.9">160</text><text x="630" y="412.7">180</text><text x="630" y="339.6">200</text><text x="630" y="266.4">220</text><text x="630" y="193.2">240</text><text x="630" y="120.1">260</text><text x="630" y="46.9">280</text></g>
<text transform="translate(673.7,261.3) rotate(-90)" text-anchor="middle" font-size="12.4" fill="#262626" textLength="246.7" lengthAdjust="spacingAndGlyphs">Brightness Temp - Horizontal Polarization</text>
</svg>
</body></html>
